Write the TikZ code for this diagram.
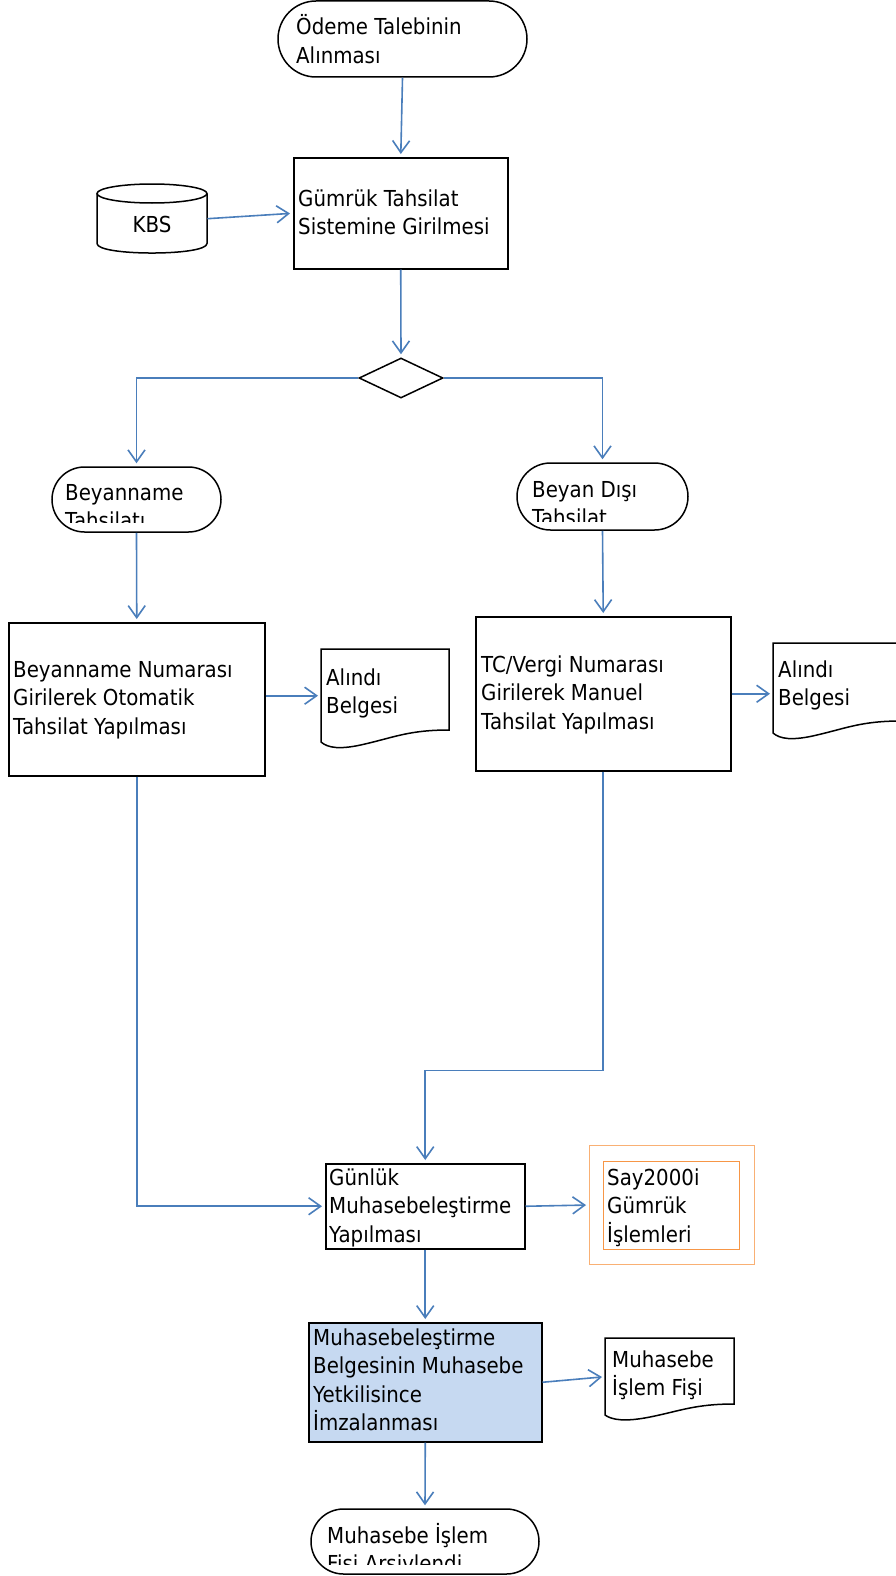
\documentclass[tikz,border=0pt]{standalone}
\usepackage{fontspec}
\setmainfont{DejaVu Sans}[FakeStretch=0.9]
\usetikzlibrary{shapes.misc,shapes.geometric,arrows.meta}
\definecolor{lnblue}{HTML}{4A7EBB}
\definecolor{fillblue}{HTML}{C6D9F1}
\definecolor{orng}{HTML}{F79646}
\newcommand\mlines[1]{\vtop{\baselineskip=28.5pt\lineskiplimit=-1000pt\lineskip=0pt\halign{##\hfil\cr#1\crcr}}}
\begin{document}
\begin{tikzpicture}[x=1pt,y=-1pt,
  shp/.style={draw=black,line width=1.5pt,inner sep=0pt,anchor=north west},
  term/.style={shp,rounded rectangle,anchor=center},
  box/.style={shp,rectangle},
  ghost/.style={draw=none,inner sep=0pt,anchor=north west,rectangle},
  outl/.style={draw=black,line width=1.5pt},
  txt/.style={anchor=base west,inner sep=0pt,font=\fontsize{22}{28.5}\selectfont},
  conn/.style={draw=lnblue,line width=1.6pt,-{Straight Barb[length=12pt,width=17pt]},shorten >=3pt}]
\fill[white] (0,0) rectangle (895,1576);
\useasboundingbox (0,0) rectangle (895,1576);

% start
\node[term,minimum width=249,minimum height=76] (start) at (402.5,39) {};
\node[txt] (startt) at (296,35) {\mlines{Ödeme Talebinin\cr Alınması}};

% Gumruk box
\node[box,minimum width=214,minimum height=111] (gts) at (293,157) {};
\node[txt] (gtst) at (298,206) {\mlines{Gümrük Tahsilat\cr Sistemine Girilmesi}};

% KBS cylinder
\node[ghost,minimum width=110,minimum height=69] (kbs) at (97,184) {};
\draw[outl] (152,193.5) ellipse [x radius=55, y radius=9.5];
\draw[outl] (97,193.5) -- (97,243.5) .. controls (97,256.2) and (207,256.2) .. (207,243.5) -- (207,193.5);
\node[txt,anchor=base] (kbst) at (152,232) {KBS};

% decision
\node[shp,diamond,anchor=center,minimum width=84,minimum height=40] (dec) at (401,378) {};

% Beyanname Tahsilati
\node[term,minimum width=169,minimum height=65] (bt) at (136.5,499.5) {};
\begin{scope}
\clip (52,467) rectangle (221,522);
\node[txt] (btt) at (65,500) {\mlines{Beyanname\cr Tahsilatı}};
\end{scope}

% Beyan Disi Tahsilat
\node[term,minimum width=171,minimum height=67] (bd) at (602.5,496.5) {};
\begin{scope}
\clip (517,463) rectangle (688,521);
\node[txt] (bdt) at (532,497) {\mlines{Beyan Dışı\cr Tahsilat}};
\end{scope}

% left process
\node[box,minimum width=256,minimum height=153] (b1) at (8,622) {};
\node[txt] (b1t) at (13,677) {\mlines{Beyanname Numarası\cr Girilerek Otomatik\cr Tahsilat Yapılması}};

% right process
\node[box,minimum width=255,minimum height=154] (b2) at (475,616) {};
\node[txt] (b2t) at (481,672) {\mlines{TC/Vergi Numarası\cr Girilerek Manuel\cr Tahsilat Yapılması}};

% document left
\node[ghost,minimum width=128,minimum height=93] (doc1) at (321,649) {};
\draw[outl] (321,649) -- (449,649) -- (449,730) .. controls (410,730) and (395,737) .. (365,744) .. controls (340,750) and (328,748) .. (321,742) -- cycle;
\node[txt] (doc1t) at (326,685) {\mlines{Alındı\cr Belgesi}};

% document right
\node[ghost,minimum width=128,minimum height=90] (doc2) at (773,643) {};
\draw[outl] (773,643) -- (901,643) -- (901,721) .. controls (862,721) and (847,728) .. (817,735) .. controls (792,741) and (780,739) .. (773,733) -- cycle;
\node[txt] (doc2t) at (778,677) {\mlines{Alındı\cr Belgesi}};

% Gunluk
\node[box,minimum width=199,minimum height=85] (gun) at (325,1163) {};
\begin{scope}
\clip (325,1163) rectangle (524,1248);
\node[txt] (gunt) at (329,1185) {\mlines{Günlük\cr Muhasebeleştirme\cr Yapılması}};
\end{scope}

% Say2000i
\node[shp,draw=orng!75,line width=1pt,minimum width=165,minimum height=119] (say) at (589,1145) {};
\node[shp,draw=orng,line width=1pt,minimum width=136,minimum height=88] (sayin) at (603,1161) {};
\node[txt] (sayt) at (607,1185) {\mlines{Say2000i\cr Gümrük\cr İşlemleri}};

% Muhasebelestirme
\node[box,fill=fillblue,minimum width=233,minimum height=119] (muh) at (308,1322) {};
\node[txt] (muht) at (313,1345) {\mlines{Muhasebeleştirme\cr Belgesinin Muhasebe\cr Yetkilisince\cr İmzalanması}};

% document Muhasebe Islem Fisi
\node[ghost,minimum width=129,minimum height=77] (doc3) at (605,1338) {};
\draw[outl] (605,1338) -- (734,1338) -- (734,1404) .. controls (695,1404) and (680,1411) .. (650,1417) .. controls (625,1422) and (612,1420) .. (605,1415) -- cycle;
\node[txt] (doc3t) at (612,1367) {\mlines{Muhasebe\cr İşlem Fişi}};

% end
\node[term,minimum width=228,minimum height=65] (fin) at (425,1541.5) {};
\begin{scope}
\clip (311,1509) rectangle (539,1564);
\node[txt] (fint) at (327,1543) {\mlines{Muhasebe İşlem\cr Fişi Arşivlendi}};
\end{scope}

% connectors
\draw[conn] (start.south) -- (gts.north);
\draw[conn] (kbs.east) -- (gts.west);
\draw[conn] (gts.south) -- (dec.north);
\draw[conn] (dec.west) -| (bt.north);
\draw[conn] (dec.east) -| (bd.north);
\draw[conn] (bt.south) -- (b1.north);
\draw[conn] (bd.south) -- (b2.north);
\draw[conn] (b1.east |- doc1.west) -- (doc1.west);
\draw[conn] (b2.east) -- (b2.east -| doc2.west);
\draw[conn] (b1.south) |- (gun.west);
\draw[conn] (b2.south) -- ++(0,299) -| (gun.north);
\draw[conn] (gun.east) -- (say.west);
\draw[conn] (gun.south) -- (muh.north);
\draw[conn] (muh.east) -- (doc3.west);
\draw[conn] (muh.south) -- (fin.north);
\end{tikzpicture}
\end{document}
